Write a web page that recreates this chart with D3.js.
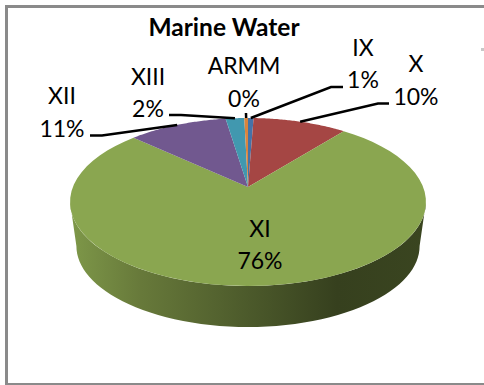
<!DOCTYPE html>
<html>
<head>
<meta charset="utf-8">
<script src="https://cdn.jsdelivr.net/npm/d3@7/dist/d3.min.js"></script>
<style>
  html, body { margin: 0; padding: 0; background: #fff; }
  svg { display: block; }
  text { font-family: Lato, "Open Sans", sans-serif; fill: #000; }
</style>
</head>
<body>
<svg id="chart" width="484" height="385"></svg>
<script>
// Marine water share by region
const regions = ["IX", "X", "XI", "XII", "XIII", "ARMM"];
const shares = [0.6, 10.1, 76.2, 10.7, 2.0, 0.4];
const sliceColors = ["#4572a7", "#a54644", "#8aa650", "#71588f", "#4198af", "#db843d"];

const svg = d3.select("#chart");

// Chart frame, open on the right where it runs off the page
svg.append("path")
  .attr("d", "M484,6.5H6.5V384.5H484")
  .attr("fill", "none").attr("stroke", "#8a8a8a").attr("stroke-width", 3);
svg.append("rect")
  .attr("x", 481).attr("y", 48).attr("width", 3).attr("height", 3)
  .attr("fill", "#c8c8c8");

svg.append("text").text("Marine Water")
  .attr("x", 224).attr("y", 36)
  .attr("text-anchor", "middle")
  .attr("font-size", 24.5).attr("font-weight", 700);

// Tilted disc: unit-circle points are pushed through a perspective mapping,
// so the apex sits above the centre of the visible ellipse.
const apex = { x: 248, y: 187 };
const persp = { xs: 175.1, ys: 47.93, w: -0.1786 };
const project = (angle, r = 1) => {
  const u = r * Math.sin(angle), v = -r * Math.cos(angle);
  const d = 1 + persp.w * v;
  return [apex.x + persp.xs * u / d, (persp.ys * v + apex.y) / d];
};
// Rim of the base of the disc, slightly smaller and lower
const base = { cy: 202, shift: 44, scale: 0.9643 };
const projectBase = a => {
  const [x, y] = project(a);
  return [apex.x + (x - apex.x) * base.scale, base.cy + (y - base.cy) * base.scale + base.shift];
};

const pie = d3.pie().value(d => d).sort(null);
const arcs = pie(shares);
const total = d3.sum(shares);
const pct = d3.format(".0%");
const line = d3.line();

const sampleArc = (a0, a1, fn) => d3.range(0, 61).map(i => fn(a0 + (a1 - a0) * i / 60));

// Side wall, visible only along the front of the disc
const wallStart = Math.acos(persp.w), wallEnd = 2 * Math.PI - wallStart;
const grad = svg.append("defs").append("linearGradient")
  .attr("id", "wall").attr("gradientUnits", "userSpaceOnUse")
  .attr("x1", 70).attr("x2", 426).attr("y1", 0).attr("y2", 0);
[[0, "#7e9849"], [0.2, "#67793a"], [0.5, "#4c5a2b"], [0.75, "#36401e"], [1, "#3a4520"]]
  .forEach(([o, c]) => grad.append("stop").attr("offset", o).attr("stop-color", c));
svg.append("path")
  .attr("d", line(sampleArc(wallStart, wallEnd, project)
    .concat(sampleArc(wallEnd, wallStart, projectBase))) + "Z")
  .attr("fill", "url(#wall)");

// Top face slices
svg.append("g").selectAll("path").data(arcs).join("path")
  .attr("d", d => line([[apex.x, apex.y]].concat(sampleArc(d.startAngle, d.endAngle, project))) + "Z")
  .attr("fill", (d, i) => sliceColors[i]);

// Callout placement per region; the XI label sits on its slice with no leader
const callouts = {
  IX:   { x: 363, y: 56,  y2: 88,  leader: [[343, 87], [331, 87]] },
  X:    { x: 416, y: 72,  y2: 105, leader: [[389, 103.5], [378, 103.5]] },
  XI:   { x: 260, y: 237, y2: 269, leader: null },
  XII:  { x: 62,  y: 104, y2: 137, leader: [[90, 135.5], [102, 135.5]] },
  XIII: { x: 148, y: 85,  y2: 117, leader: [[169, 115], [181, 115]] },
  ARMM: { x: 244, y: 74,  y2: 107, leader: [[246, 113]] }
};

arcs.forEach((d, i) => {
  const c = callouts[regions[i]];
  if (c.leader) {
    const mid = (d.startAngle + d.endAngle) / 2;
    svg.append("path")
      .attr("d", line(c.leader.concat([project(mid)])))
      .attr("fill", "none").attr("stroke", "#000").attr("stroke-width", 2.5);
  }
  const label = svg.append("g").attr("text-anchor", "middle").attr("font-size", 23);
  label.append("text").attr("x", c.x).attr("y", c.y).text(regions[i]);
  label.append("text").attr("x", c.x).attr("y", c.y2).text(pct(shares[i] / total));
});
</script>
</body>
</html>
